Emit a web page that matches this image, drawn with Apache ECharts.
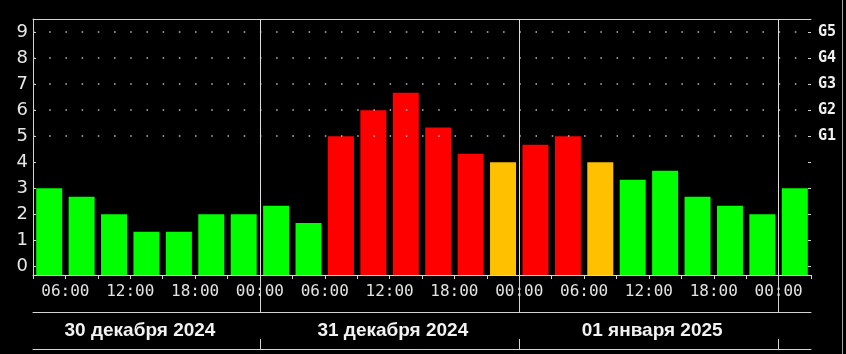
<!DOCTYPE html>
<html><head><meta charset="utf-8">
<script src="https://cdn.jsdelivr.net/npm/echarts@6/dist/echarts.min.js"></script>
<style>
html,body{margin:0;padding:0;background:#000;width:846px;height:354px;overflow:hidden}
#c{width:842px;height:354px;border-right:1px solid #a8a8a8}
</style></head>
<body><div id="c"></div>
<script>
// 3-hour slots (start times), 30 Dec 03:00 .. 02 Jan 00:00
const slots = ['30.12 03','30.12 06','30.12 09','30.12 12','30.12 15','30.12 18','30.12 21',
  '31.12 00','31.12 03','31.12 06','31.12 09','31.12 12','31.12 15','31.12 18','31.12 21',
  '01.01 00','01.01 03','01.01 06','01.01 09','01.01 12','01.01 15','01.01 18','01.01 21',
  '02.01 00'];
const kp = [3.0, 2.67, 2.0, 1.33, 1.33, 2.0, 2.0,
  2.33, 1.67, 5.0, 6.0, 6.67, 5.33, 4.33, 4.0,
  4.67, 5.0, 4.0, 3.33, 3.67, 2.67, 2.33, 2.0,
  3.0];
// hours counted from 30 Dec 00:00
const hourMin = 3, hourMax = 75;
const hourTicks = [6,12,18,24,30,36,42,48,54,60,66,72];
const hourLabels = ['06:00','12:00','18:00','00:00','06:00','12:00','18:00','00:00','06:00','12:00','18:00','00:00'];
const dayBounds = [24,48,72];
const dayLabelPos = [12.9,36.3,60.3];
const dayLabels = ['30 декабря 2024','31 декабря 2024','01 января 2025'];
const kpTicks = [0,1,2,3,4,5,6,7,8,9];
const gLevels = [5,6,7,8,9];
const gLabels = ['G1','G2','G3','G4','G5'];
const dotRows = [5,6,7,8,9];
const kpMin = -0.33, kpMax = 9.5;

const lineCol = '#d4d4d4';
const chart = echarts.init(document.getElementById('c'));
const hAxisBase = {type:'value', min:hourMin, max:hourMax, splitLine:{show:false},
  axisLine:{show:true, onZero:false, lineStyle:{color:lineCol, width:1}}};
chart.setOption({
  backgroundColor:'#000',
  animation:false,
  grid:{left:33, right:31, top:19, bottom:79, containLabel:false, outerBoundsMode:'none'},
  xAxis:[
    {type:'category', data:slots, show:false, position:'bottom', boundaryGap:true,
      axisLine:{onZero:false}},
    Object.assign({}, hAxisBase, {position:'bottom', interval:3,
      axisTick:{show:true, length:4, lineStyle:{color:lineCol}},
      axisLabel:{customValues:hourTicks, formatter:v=>hourLabels[hourTicks.indexOf(v)],
        color:'#e2e2e2', fontFamily:'DejaVu Sans Mono', fontSize:16, margin:9}}),
    Object.assign({}, hAxisBase, {position:'bottom', offset:37,
      axisTick:{show:true, inside:true, length:37, customValues:dayBounds, lineStyle:{color:lineCol}},
      axisLabel:{show:false}}),
    Object.assign({}, hAxisBase, {position:'bottom', offset:74,
      axisTick:{show:true, inside:true, length:10, customValues:dayBounds, lineStyle:{color:lineCol}},
      axisLabel:{show:true, inside:true, customValues:dayLabelPos,
        formatter:v=>dayLabels[dayLabelPos.indexOf(v)],
        color:'#f2f2f2', fontFamily:'Liberation Sans', fontWeight:'bold', fontSize:19, margin:9}}),
    Object.assign({}, hAxisBase, {position:'top', axisTick:{show:false}, axisLabel:{show:false}})
  ],
  yAxis:[
    {type:'value', position:'left', min:kpMin, max:kpMax, startValue:kpMin,
      axisLine:{show:true, onZero:false, lineStyle:{color:lineCol}},
      axisTick:{show:true, inside:true, length:3, customValues:kpTicks, lineStyle:{color:lineCol}},
      axisLabel:{customValues:kpTicks, color:'#e6e6e6', fontFamily:'DejaVu Sans', fontSize:18, margin:5},
      splitLine:{show:false}},
    {type:'value', position:'right', min:kpMin, max:kpMax,
      axisLine:{show:false, onZero:false},
      axisTick:{show:true, inside:true, length:3, customValues:kpTicks, lineStyle:{color:lineCol}},
      axisLabel:{customValues:gLevels, formatter:v=>gLabels[gLevels.indexOf(v)],
        color:'#f0f0f0', fontFamily:'DejaVu Sans Mono', fontWeight:'bold', fontSize:15, margin:7},
      splitLine:{show:false}}
  ],
  series:[
    {type:'line', xAxisIndex:1, yAxisIndex:0, data:[], z:1, silent:true,
      markLine:{silent:true, symbol:['none','none'], label:{show:false}, animation:false,
        data: dotRows.map(v=>({yAxis:v, lineStyle:{type:[1.5,14.71], color:'#bdbdbd', width:1.5}}))
          .concat(dayBounds.map(v=>({xAxis:v, lineStyle:{type:'solid', color:'#dedede', width:1}})))}},
    {type:'bar', xAxisIndex:0, yAxisIndex:0, data:kp, barWidth:26, z:3,
      itemStyle:{color:p=>p.value < 4 ? '#00ff00' : (p.value < 4.3 ? '#ffc000' : '#ff0000')}}
  ]
});
</script></body></html>
